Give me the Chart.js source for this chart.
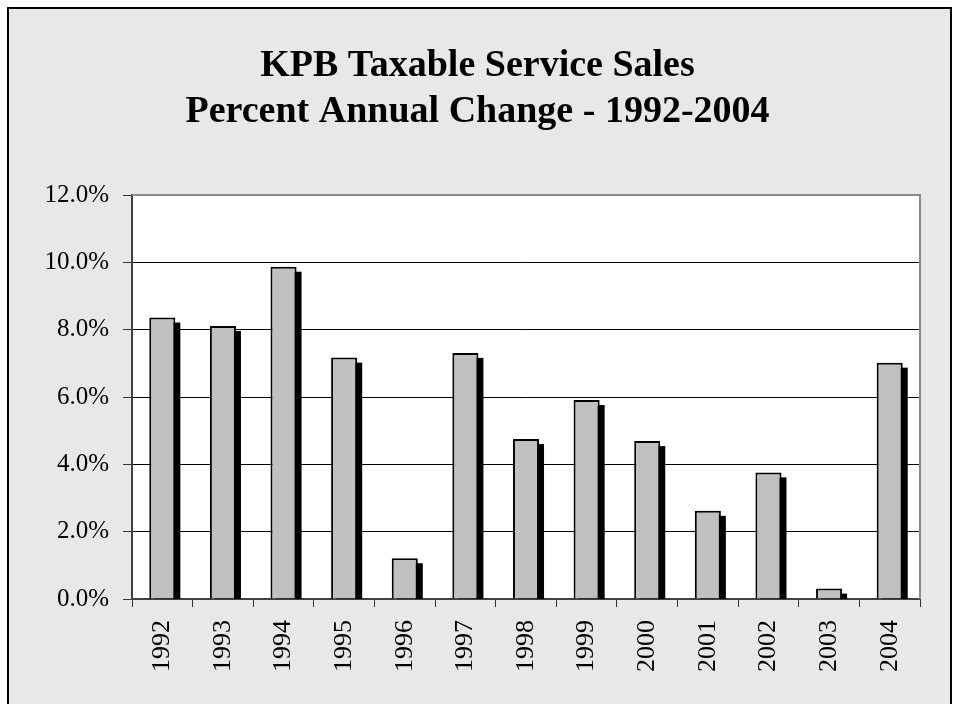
<!DOCTYPE html>
<html>
<head>
<meta charset="utf-8">
<script src="https://cdn.jsdelivr.net/npm/chart.js@4/dist/chart.umd.min.js"></script>
<style>
  html, body { margin: 0; padding: 0; background: #ffffff; }
  #wrap { width: 958px; height: 704px; position: relative; }
</style>
</head>
<body>
<div id="wrap"><canvas id="c" width="958" height="704"></canvas></div>
<script>
// ---- Data ----
const titleLines = ['KPB Taxable Service Sales', 'Percent Annual Change - 1992-2004'];
const years = ['1992','1993','1994','1995','1996','1997','1998','1999','2000','2001','2002','2003','2004'];
const pctChange = [8.36, 8.11, 9.87, 7.17, 1.21, 7.31, 4.75, 5.91, 4.69, 2.62, 3.76, 0.31, 7.02];
const yTickValues = [0, 2, 4, 6, 8, 10, 12];
const yTickLabels = ['0.0%', '2.0%', '4.0%', '6.0%', '8.0%', '10.0%', '12.0%'];

const serif = "'Liberation Serif', 'Times New Roman', Times, serif";

const framePlugin = {
  id: 'frame',
  beforeDraw(chart) {
    const ctx = chart.ctx;
    const a = chart.chartArea;
    ctx.save();
    ctx.fillStyle = '#ffffff';
    ctx.fillRect(0, 0, chart.width, chart.height);
    ctx.fillStyle = '#e8e8e8';
    ctx.fillRect(8, 8, 943, 710);
    ctx.strokeStyle = '#000000';
    ctx.lineWidth = 2;
    ctx.strokeRect(8, 8, 943, 710);
    ctx.fillStyle = '#ffffff';
    ctx.fillRect(a.left, a.top, a.right - a.left, a.bottom - a.top);
    ctx.restore();
  },
  beforeDatasetsDraw(chart) {
    // drop shadow of each bar, from the bar elements laid out by the library
    const ctx = chart.ctx;
    const a = chart.chartArea;
    const meta = chart.getDatasetMeta(0);
    ctx.save();
    ctx.beginPath();
    ctx.rect(a.left, a.top, a.right - a.left, a.bottom - a.top);
    ctx.clip();
    ctx.fillStyle = '#000000';
    meta.data.forEach(bar => {
      const p = bar.getProps(['x', 'y', 'base', 'width'], true);
      const left = p.x - p.width / 2 + 5;
      const top = Math.min(p.y, p.base) + 5;
      ctx.fillRect(left, top, p.width, Math.abs(p.base - p.y));
    });
    ctx.restore();
  },
  afterDraw(chart) {
    const ctx = chart.ctx;
    const a = chart.chartArea;
    ctx.save();
    ctx.strokeStyle = '#8a8a8a';
    ctx.lineWidth = 2;
    ctx.beginPath();
    ctx.moveTo(a.left, a.top);
    ctx.lineTo(a.right, a.top);
    ctx.lineTo(a.right, a.bottom);
    ctx.stroke();
    ctx.restore();
  }
};

new Chart(document.getElementById('c'), {
  type: 'bar',
  data: {
    labels: years,
    datasets: [{
      data: pctChange,
      backgroundColor: '#c0c0c0',
      borderColor: '#000000',
      borderWidth: 2,
      borderSkipped: 'bottom',
      barPercentage: 0.43,
      categoryPercentage: 1.0
    }]
  },
  options: {
    responsive: false,
    animation: false,
    events: [],
    layout: { padding: { left: 35, right: 38, top: 0, bottom: 0 } },
    plugins: {
      legend: { display: false },
      tooltip: { enabled: false },
      title: {
        display: true,
        text: titleLines,
        color: '#000000',
        font: { family: serif, size: 38, weight: 'bold', lineHeight: 46 / 38 },
        padding: { top: 43, bottom: 60 }
      }
    },
    scales: {
      x: {
        offset: true,
        grid: {
          offset: true,
          drawOnChartArea: false,
          drawTicks: true,
          tickLength: 8,
          tickColor: '#333333',
          tickWidth: 1
        },
        border: { display: true, color: '#404040', width: 2 },
        ticks: {
          color: '#000000',
          font: { family: serif, size: 26 },
          minRotation: 90,
          maxRotation: 90,
          padding: 13,
          autoSkip: false
        },
        afterFit(scale) { scale.height = 105; }
      },
      y: {
        min: 0,
        max: 12,
        afterBuildTicks(scale) { scale.ticks = yTickValues.map(v => ({ value: v })); },
        grid: {
          color: ctx => (ctx.tick && ctx.tick.value === 12) ? '#8a8a8a' : '#000000',
          lineWidth: 1,
          drawTicks: true,
          tickLength: 9,
          tickColor: '#333333'
        },
        border: { display: true, color: '#404040', width: 2 },
        ticks: {
          color: '#000000',
          font: { family: serif, size: 25 },
          padding: 14,
          callback: (v) => yTickLabels[yTickValues.indexOf(v)]
        },
        afterFit(scale) { scale.width = 97; }
      }
    }
  },
  plugins: [framePlugin]
});
</script>
</body>
</html>
